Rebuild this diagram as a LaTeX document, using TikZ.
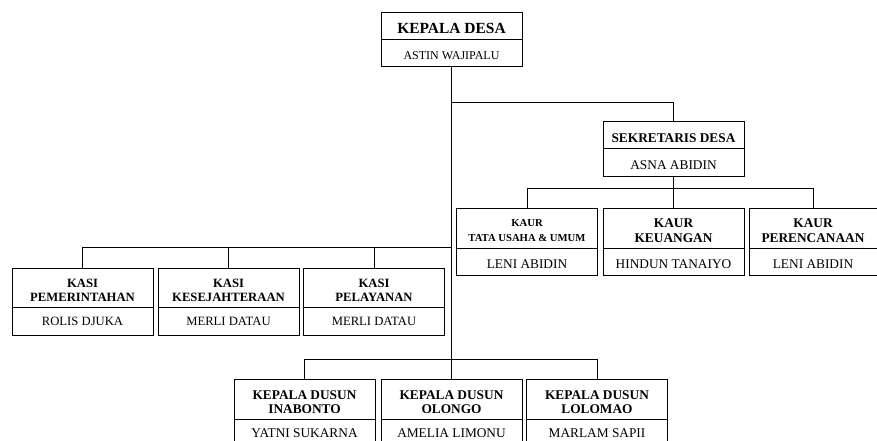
\documentclass[tikz,border=0pt]{standalone}
\usepackage{fontspec}
\setmainfont{Liberation Serif}
\newcommand{\jarak}{\rule{0pt}{1.1em}}
\tikzset{
jabatan/.style={draw, line width=0.75pt, minimum width=105.75pt, minimum height=30pt, inner sep=1pt, align=center, font=\fontsize{10}{11.25}\selectfont\bfseries},
nama/.style={draw, line width=0.75pt, minimum width=105.75pt, minimum height=20.5pt, inner sep=1pt, font=\fontsize{10}{12}\selectfont},
garis/.style={line width=0.75pt}
}
\begin{document}
\begin{tikzpicture}[x=0.75pt,y=-0.75pt]
\useasboundingbox (0,0) rectangle (877,440);
\node (kades) at (451.5,25.5) [jabatan, minimum height=20.25pt, font=\fontsize{11.6}{13}\selectfont\bfseries] {\jarak KEPALA DESA};
\node (kadesnama) at (451.5,52.67) [nama, font=\fontsize{9}{11}\selectfont] {\jarak ASTIN WAJIPALU};
\node (sekdes) at (673.5,135) [jabatan, minimum height=20.5pt] {\jarak SEKRETARIS DESA};
\node (sekdesnama) at (673.5,162.33) [nama] {\jarak ASNA ABIDIN};
\node (kaur1) at (527,228) [jabatan, font=\fontsize{8}{11}\selectfont\bfseries] {\jarak KAUR\\TATA USAHA \& UMUM};
\node (kaur1nama) at (527,261.67) [nama] {\jarak LENI ABIDIN};
\node (kaur2) at (673.5,228) [jabatan] {\jarak KAUR\\KEUANGAN};
\node (kaur2nama) at (673.5,261.67) [nama] {\jarak HINDUN TANAIYO};
\node (kaur3) at (813,228) [jabatan, minimum width=96pt] {\jarak KAUR\\PERENCANAAN};
\node (kaur3nama) at (813,261.67) [nama, minimum width=96pt] {\jarak LENI ABIDIN};
\node (kasi1) at (82.5,287.5) [jabatan, minimum height=29.25pt, font=\fontsize{9.5}{10.5}\selectfont\bfseries] {\jarak KASI\\PEMERINTAHAN};
\node (kasi1nama) at (82.5,321) [nama, minimum height=21pt, font=\fontsize{9.5}{11}\selectfont] {ROLIS DJUKA};
\node (kasi2) at (228.5,287.5) [jabatan, minimum height=29.25pt, font=\fontsize{9.5}{10.5}\selectfont\bfseries] {\jarak KASI\\KESEJAHTERAAN};
\node (kasi2nama) at (228.5,321) [nama, minimum height=21pt, font=\fontsize{9.5}{11}\selectfont] {MERLI DATAU};
\node (kasi3) at (374,287.5) [jabatan, minimum height=29.25pt, font=\fontsize{9.5}{10.5}\selectfont\bfseries] {\jarak KASI\\PELAYANAN};
\node (kasi3nama) at (374,321) [nama, minimum height=21pt, font=\fontsize{9.5}{11}\selectfont] {MERLI DATAU};
\node (dusun1) at (304.5,399) [jabatan, font=\fontsize{10}{10.5}\selectfont\bfseries] {\jarak KEPALA DUSUN\\INABONTO};
\node (dusun1nama) at (304.5,433) [nama, minimum height=21pt] {YATNI SUKARNA};
\node (dusun2) at (451.5,399) [jabatan, font=\fontsize{10}{10.5}\selectfont\bfseries] {\jarak KEPALA DUSUN\\OLONGO};
\node (dusun2nama) at (451.5,433) [nama, minimum height=21pt] {AMELIA LIMONU};
\node (dusun3) at (597,399) [jabatan, font=\fontsize{10}{10.5}\selectfont\bfseries] {\jarak KEPALA DUSUN\\LOLOMAO};
\node (dusun3nama) at (597,433) [nama, minimum height=21pt] {MARLAM SAPII};
\draw [garis] (kadesnama.south) -- (dusun2.north);
\draw [garis] (kadesnama.south) ++(0,36) -| (sekdes.north);
\foreach \n in {kaur1,kaur2,kaur3}
\draw [garis] (sekdesnama.south) -- ++(0,12) -| (\n.north);
\foreach \n in {kasi1,kasi2,kasi3}
\draw [garis] (kadesnama.south) ++(0,181) -| (\n.north);
\foreach \n in {dusun1,dusun3}
\draw [garis] (kadesnama.south) ++(0,293) -| (\n.north);
\end{tikzpicture}
\end{document}
